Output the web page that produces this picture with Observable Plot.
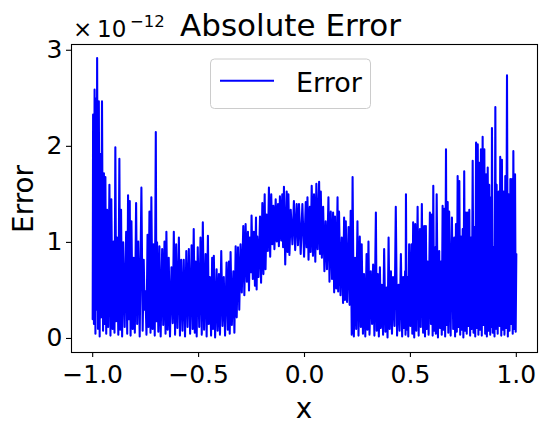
<!DOCTYPE html>
<html><head><meta charset="utf-8">
<script src="https://cdn.jsdelivr.net/npm/d3@7"></script>
<script src="https://cdn.jsdelivr.net/npm/@observablehq/plot@0.6"></script>
<style>body{margin:0;background:#fff;} svg{display:block}</style>
</head><body><div id="chart"></div>
<script>
// [x, absolute error (×1e-12)], left to right
const segA = [[-1.000,0.20],[-0.998,2.33],[-0.994,0.15],[-0.991,2.59],[-0.987,0.05],[-0.984,2.50],[-0.981,0.30],[-0.979,2.92],[-0.975,0.10],[-0.971,2.47],
[-0.967,0.02],[-0.964,1.92],[-0.960,0.22],[-0.956,2.47],[-0.951,0.08],[-0.947,1.72],[-0.944,0.15],[-0.940,1.68],[-0.936,0.05],[-0.932,1.34],
[-0.927,0.12],[-0.921,1.60],[-0.916,0.03],[-0.912,1.45],[-0.906,0.10],[-0.901,1.01],[-0.897,0.06],[-0.893,1.99],[-0.889,0.18],[-0.885,1.05],
[-0.879,0.04],[-0.874,1.87],[-0.870,0.09],[-0.866,1.34],[-0.861,0.02],[-0.856,1.00],[-0.849,0.12],[-0.842,1.11],[-0.837,0.05],[-0.833,1.49],
[-0.829,0.20],[-0.825,1.43],[-0.821,0.03],[-0.817,1.22],[-0.811,0.10],[-0.806,0.84],[-0.801,0.06],[-0.795,1.41],[-0.790,0.15],[-0.785,1.01],
[-0.778,0.02],[-0.770,1.57],[-0.764,0.08],[-0.759,0.82],[-0.755,0.30],[-0.751,0.49],[-0.746,0.04],[-0.741,1.08],[-0.737,0.12],[-0.732,1.32],
[-0.727,0.06],[-0.723,1.47],[-0.717,0.10],[-0.712,0.98],[-0.707,0.03],[-0.702,2.15],[-0.699,0.18],[-0.696,1.00],[-0.690,0.07],[-0.685,0.96],
[-0.679,0.02],[-0.672,0.93],[-0.667,0.14],[-0.661,1.01],[-0.656,0.05],[-0.652,1.11],[-0.646,0.09],[-0.641,0.84],[-0.635,0.02],[-0.628,0.74],
[-0.622,0.16],[-0.617,1.11],[-0.611,0.04],[-0.606,0.98],[-0.600,0.11],[-0.593,1.05],[-0.588,0.03],[-0.582,0.82],[-0.576,0.08],[-0.570,0.82],
[-0.564,0.02],[-0.558,0.91],[-0.552,0.12],[-0.546,0.93],[-0.540,0.05],[-0.533,0.97],[-0.528,0.10],[-0.523,1.14]];
const segB = [[-0.518,0.06],[-0.514,0.80],[-0.509,0.02],[-0.504,0.95],[-0.497,0.12],[-0.491,1.05],[-0.485,0.04],[-0.480,1.21],[-0.474,0.09],[-0.467,0.88],
[-0.462,0.02],[-0.456,1.07],[-0.452,0.15],[-0.447,0.64],[-0.441,0.03],[-0.436,0.84],[-0.432,0.10],[-0.428,0.86],[-0.422,0.01],[-0.415,0.72],
[-0.410,0.08],[-0.404,0.67],[-0.399,0.04],[-0.393,0.91],[-0.387,0.13],[-0.381,0.64],[-0.375,0.03],[-0.368,0.79],[-0.362,0.09],[-0.357,0.80],
[-0.353,0.05],[-0.349,0.90],[-0.343,0.14],[-0.336,0.70],[-0.331,0.06],[-0.325,0.96],[-0.320,0.22],[-0.314,0.95],[-0.308,0.30],[-0.302,0.98],
[-0.296,0.48],[-0.289,1.17],[-0.284,0.45],[-0.278,1.19],[-0.272,0.59],[-0.267,1.11],[-0.262,0.50],[-0.258,1.05],[-0.253,0.69],[-0.250,1.28],
[-0.244,0.62],[-0.239,1.11],[-0.234,0.55],[-0.229,1.26],[-0.226,0.51],[-0.223,1.06],[-0.217,0.64],[-0.210,1.27],[-0.205,0.58],[-0.199,1.41],
[-0.194,0.67],[-0.188,1.50],[-0.184,0.72],[-0.179,1.29],[-0.173,0.91],[-0.168,1.57],[-0.162,0.85],[-0.157,1.50],[-0.152,0.98],[-0.147,1.38],
[-0.142,0.93],[-0.136,1.45],[-0.131,1.01],[-0.125,1.40],[-0.121,0.96],[-0.116,1.48],[-0.110,1.02],[-0.105,1.50],[-0.101,0.95],[-0.097,1.58],
[-0.091,0.77],[-0.084,1.53],[-0.080,0.90],[-0.076,1.50],[-0.071,0.87],[-0.065,1.34],[-0.057,0.98],[-0.050,1.43],[-0.044,0.92],[-0.037,1.40],
[-0.031,0.97],[-0.026,1.40]];
const segC = [[-0.018,0.88],[-0.010,1.40],[-0.002,0.85],[0.006,1.42],[0.010,0.95],[0.014,1.47],[0.019,0.82],[0.025,1.37],[0.029,0.90],[0.034,1.59],
[0.040,0.86],[0.045,1.50],[0.051,0.80],[0.056,1.61],[0.062,0.93],[0.069,1.63],[0.073,0.88],[0.077,1.53],[0.082,0.84],[0.088,1.37],
[0.094,0.70],[0.100,1.22],[0.106,0.72],[0.113,1.47],[0.118,0.59],[0.124,1.32],[0.130,0.62],[0.135,1.31],[0.140,0.48],[0.144,1.27],
[0.150,0.52],[0.156,1.47],[0.159,0.49],[0.163,1.32],[0.170,0.45],[0.176,1.05],[0.182,0.37],[0.187,1.26],[0.191,0.40],[0.195,1.22],
[0.201,0.38],[0.208,1.16],[0.213,0.35],[0.218,1.33],[0.223,0.04],[0.227,1.68],[0.233,0.02],[0.239,0.84],[0.244,0.10],[0.250,1.22],
[0.255,0.03],[0.261,1.06],[0.266,0.12],[0.270,0.98],[0.276,0.05],[0.281,0.67],[0.287,0.02],[0.293,0.88],[0.297,0.09],[0.302,1.01],
[0.307,0.04],[0.313,0.70],[0.319,0.15],[0.324,0.77],[0.330,0.03],[0.337,1.31],[0.341,0.08],[0.346,0.67],[0.351,0.02],[0.356,0.74],
[0.360,0.11],[0.365,0.56],[0.371,0.04],[0.376,0.93],[0.382,0.07],[0.387,0.53],[0.392,0.01],[0.397,1.05],[0.402,0.10],[0.408,0.70],
[0.413,0.05],[0.418,0.64],[0.425,0.13],[0.431,1.37],[0.437,0.03],[0.444,0.56],[0.449,0.08],[0.455,0.88],[0.461,0.02],[0.466,0.64],
[0.470,0.11],[0.475,0.70]];
const segD = [[0.477,0.04],[0.479,1.50],[0.482,0.09],[0.487,0.64],[0.490,0.02],[0.494,0.98],[0.500,0.13],[0.505,0.98],[0.509,0.05],[0.513,1.21],
[0.518,0.01],[0.523,1.19],[0.528,0.08],[0.534,1.37],[0.539,0.03],[0.545,1.14],[0.549,0.12],[0.554,1.40],[0.560,0.06],[0.565,1.17],
[0.569,0.02],[0.573,1.17],[0.577,0.10],[0.581,0.80],[0.586,0.04],[0.592,1.31],[0.597,0.15],[0.601,1.29],[0.605,0.03],[0.608,1.59],
[0.612,0.08],[0.617,0.95],[0.620,0.05],[0.624,1.50],[0.630,0.01],[0.636,0.91],[0.640,0.11],[0.644,0.80],[0.648,0.04],[0.652,1.38],
[0.656,0.09],[0.660,1.35],[0.664,0.02],[0.668,1.97],[0.671,0.14],[0.676,1.42],[0.679,0.06],[0.683,1.32],[0.690,0.03],[0.696,1.26],
[0.702,0.10],[0.707,1.05],[0.711,0.02],[0.715,1.19],[0.719,0.07],[0.723,1.69],[0.727,0.12],[0.731,1.64],[0.735,0.04],[0.739,1.06],
[0.742,0.09],[0.747,1.14],[0.750,0.01],[0.754,1.74],[0.758,0.08],[0.762,1.31],[0.766,0.05],[0.770,1.31],[0.774,0.13],[0.778,1.34],
[0.782,0.03],[0.786,1.05],[0.790,0.10],[0.794,1.85],[0.798,0.06],[0.801,1.16],[0.806,0.02],[0.810,2.04],[0.813,0.11],[0.818,2.02],
[0.821,0.04],[0.825,1.83],[0.829,0.09],[0.833,1.97],[0.837,0.03],[0.841,2.10],[0.845,0.14],[0.849,1.97],[0.853,0.05],[0.857,1.71],
[0.861,0.02],[0.865,1.78],[0.869,0.08],[0.872,1.60],[0.877,0.04],[0.880,1.47],[0.883,0.12],[0.885,2.19],[0.889,0.06],[0.893,0.95],
[0.897,0.02],[0.901,2.41],[0.904,0.10],[0.907,1.60],[0.912,0.05],[0.917,1.53],[0.921,0.13],[0.924,1.89],[0.929,0.03],[0.932,1.86],
[0.936,0.09],[0.940,1.53],[0.944,0.04],[0.948,1.69],[0.952,0.11],[0.956,2.74],[0.960,0.02],[0.964,1.50],[0.968,0.08],[0.972,1.66],
[0.976,0.15],[0.980,1.66],[0.983,0.05],[0.986,1.95],[0.990,0.10],[0.994,1.71],[0.997,0.07],[1.000,0.88]];

const xTicks = [-1, -0.5, 0, 0.5, 1];
const yTicks = [0, 1, 2, 3];
const titleText = "Absolute Error";
const xLabel = "x";
const yLabel = "Error";
const seriesName = "Error";
const offsetTimes = "×";
const offsetBase = "10";
const offsetExp = "−12";

const data = [...segA, ...segB, ...segC, ...segD].map(([x, y]) => ({x, y}));
const F = "DejaVu Sans, sans-serif";

const plot = Plot.plot({
  width: 547, height: 433,
  marginLeft: 71, marginRight: 10, marginTop: 44, marginBottom: 81,
  style: {fontFamily: F, fontSize: "25px", background: "white", color: "black"},
  x: {domain: [-1.1, 1.1]},
  y: {domain: [-0.146, 3.06]},
  marks: [
    Plot.line(data, {x: "x", y: "y", stroke: "#0000ff", strokeWidth: 2.08}),
    Plot.frame({stroke: "black", strokeWidth: 1.1}),
    Plot.axisX({ticks: xTicks, tickFormat: d3.format(".1f"), tickSize: 5, tickPadding: 8, fontSize: 25, label: null, strokeWidth: 1.1}),
    Plot.axisY({ticks: yTicks, tickFormat: d3.format("d"), tickSize: 5, tickPadding: 4, fontSize: 25, label: null, strokeWidth: 1.1})
  ]
});

const svg = d3.select(plot);
const addText = (x, y, size, str, anchor = "start") =>
  svg.append("text").attr("x", x).attr("y", y).attr("text-anchor", anchor)
    .attr("font-family", F).attr("font-size", size).attr("fill", "black").text(str);
addText(290.5, 36, 31, titleText, "middle");
addText(73, 36.7, 23, offsetTimes);
addText(97, 36.7, 23, offsetBase);
addText(130, 27.3, 16.5, offsetExp);
svg.append("text").attr("transform", "translate(33,199) rotate(-90)").attr("text-anchor", "middle")
  .attr("font-family", F).attr("font-size", 27.8).attr("fill", "black").text(yLabel);
addText(304, 418, 27.8, xLabel, "middle");
const lg = svg.append("g");
lg.append("rect").attr("x", 210.5).attr("y", 59).attr("width", 160).attr("height", 49.5).attr("rx", 4)
  .attr("fill", "white").attr("fill-opacity", 0.8).attr("stroke", "#cccccc").attr("stroke-width", 1);
lg.append("line").attr("x1", 220).attr("x2", 274).attr("y1", 80.7).attr("y2", 80.7)
  .attr("stroke", "#0000ff").attr("stroke-width", 2.08);
addText(296, 91.5, 27, seriesName);

document.getElementById("chart").append(plot);
</script>
</body></html>
